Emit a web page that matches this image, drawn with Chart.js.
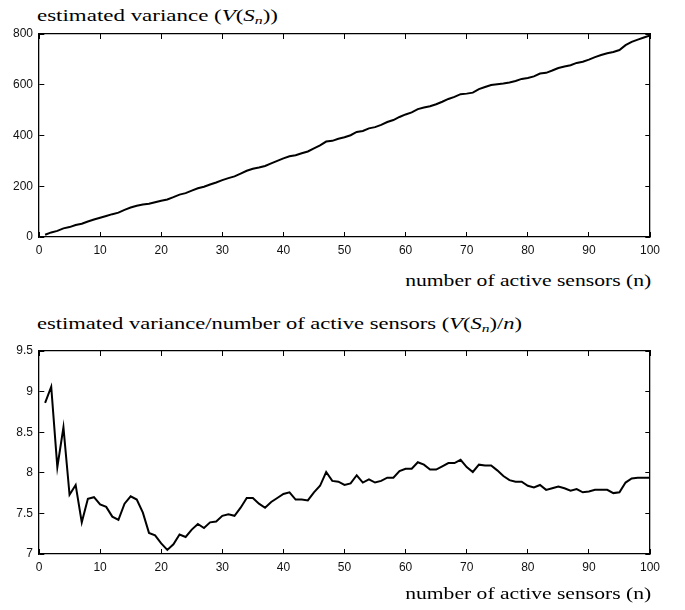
<!DOCTYPE html>
<html>
<head>
<meta charset="utf-8">
<script src="https://cdn.jsdelivr.net/npm/chart.js@4/dist/chart.umd.min.js"></script>
<style>
  body { margin: 0; background: #fff; width: 685px; height: 610px; position: relative; overflow: hidden; }
  canvas { position: absolute; left: 0; }
  .lbl {
    position: absolute;
    font-family: "Liberation Serif", "Times New Roman", Times, serif;
    font-size: 16px;
    line-height: 1;
    white-space: nowrap;
    color: #000;
  }
  .lbl.left { transform-origin: 0 0; }
  .lbl.right { transform-origin: 100% 0; }
  .lbl sub { font-size: 11px; vertical-align: -3px; line-height: 0; }
</style>
</head>
<body>
<div class="lbl left" id="topTitle" style="left:37px; top:8px;">estimated variance (<i>V</i>(<i>S</i><sub><i>n</i></sub>))</div>
<canvas id="varianceChart" width="685" height="270" style="top:0px"></canvas>
<div class="lbl right" id="topAxis" style="right:34px; top:273px;">number of active sensors (n)</div>

<div class="lbl left" id="bottomTitle" style="left:37px; top:316px;">estimated variance/number of active sensors (<i>V</i>(<i>S</i><sub><i>n</i></sub>)/<i>n</i>)</div>
<canvas id="ratioChart" width="685" height="270" style="top:317px"></canvas>
<div class="lbl right" id="bottomAxis" style="right:34px; top:586px;">number of active sensors (n)</div>

<script>
// number of active sensors
const sensorCounts = [
  1, 2, 3, 4, 5, 6, 7, 8, 9, 10,
  11, 12, 13, 14, 15, 16, 17, 18, 19, 20,
  21, 22, 23, 24, 25, 26, 27, 28, 29, 30,
  31, 32, 33, 34, 35, 36, 37, 38, 39, 40,
  41, 42, 43, 44, 45, 46, 47, 48, 49, 50,
  51, 52, 53, 54, 55, 56, 57, 58, 59, 60,
  61, 62, 63, 64, 65, 66, 67, 68, 69, 70,
  71, 72, 73, 74, 75, 76, 77, 78, 79, 80,
  81, 82, 83, 84, 85, 86, 87, 88, 89, 90,
  91, 92, 93, 94, 95, 96, 97, 98, 99, 100
];

// estimated variance V(S_n)
const variance = [
  9, 18, 24, 34, 39, 47, 52, 61, 69, 76,
  83, 90, 96, 107, 116, 123, 128, 131, 137, 143,
  148, 157, 167, 173, 183, 192, 198, 207, 215, 224,
  232, 239, 250, 261, 269, 274, 280, 290, 300, 310,
  318, 322, 330, 337, 349, 361, 376, 379, 387, 393,
  401, 414, 418, 428, 433, 442, 453, 461, 473, 483,
  491, 504, 510, 515, 523, 533, 544, 552, 563, 565,
  569, 583, 591, 599, 602, 605, 609, 615, 623, 627,
  633, 644, 647, 656, 666, 672, 677, 686, 691, 699,
  709, 717, 724, 729, 737, 756, 769, 778, 786, 794
];

// estimated variance / number of active sensors V(S_n)/n
const varianceRatio = [
  8.86, 9.06, 8.07, 8.56, 7.73, 7.85, 7.39, 7.68, 7.70, 7.61,
  7.58, 7.46, 7.42, 7.62, 7.71, 7.67, 7.51, 7.26, 7.23, 7.13,
  7.05, 7.12, 7.24, 7.21, 7.30, 7.37, 7.32, 7.39, 7.40, 7.47,
  7.49, 7.47, 7.57, 7.69, 7.69, 7.62, 7.57, 7.64, 7.69, 7.74,
  7.76, 7.67, 7.67, 7.66, 7.76, 7.84, 8.01, 7.90, 7.89, 7.85,
  7.87, 7.97, 7.88, 7.92, 7.88, 7.90, 7.94, 7.94, 8.02, 8.05,
  8.05, 8.13, 8.10, 8.04, 8.04, 8.08, 8.12, 8.12, 8.16, 8.07,
  8.01, 8.10, 8.09, 8.09, 8.03, 7.96, 7.91, 7.89, 7.89, 7.84,
  7.82, 7.85, 7.79, 7.81, 7.83, 7.81, 7.78, 7.80, 7.76, 7.77,
  7.79, 7.79, 7.79, 7.75, 7.76, 7.88, 7.93, 7.94, 7.94, 7.94
];

const xTickLabels = ['0', '10', '20', '30', '40', '50', '60', '70', '80', '90', '100'];
const varianceTickLabels = ['0', '200', '400', '600', '800'];
const ratioTickLabels = ['7', '7.5', '8', '8.5', '9', '9.5'];

const tickFont = { family: '"Liberation Sans", Arial, Helvetica, sans-serif', size: 12 };

// labelled axis: the grid lines are dashed so only a short mark shows at each edge,
// which gives the inward pointing ticks on both sides of the box
function labelAxis(position, min, max, step, labels, size, dash) {
  const horizontal = position === 'bottom';
  return {
    type: 'linear',
    position: position,
    min: min,
    max: max,
    border: { display: true, color: '#000', width: 1.3, dash: dash },
    grid: { display: true, drawOnChartArea: true, drawTicks: false, color: '#000', lineWidth: 1, borderDash: dash },
    ticks: {
      stepSize: step,
      padding: 6,
      color: '#111',
      font: tickFont,
      maxRotation: 0,
      autoSkip: false,
      callback: (v, i) => labels[i],
    },
    afterFit: (scale) => {
      if (horizontal) scale.height = size;
      else scale.width = size;
    },
  };
}

// unlabelled axis that only closes the box on the top / right
function frameAxis(position, min, max) {
  const horizontal = position === 'top';
  return {
    type: 'linear',
    position: position,
    min: min,
    max: max,
    border: { display: true, color: '#000', width: 1.3 },
    grid: { display: false, drawTicks: false },
    ticks: { display: false },
    afterFit: (scale) => {
      if (horizontal) scale.height = 0;
      else scale.width = 0;
    },
  };
}

function drawPanel(canvasId, values, yMin, yMax, yStep, yLabels) {
  const context = document.getElementById(canvasId).getContext('2d');
  return new Chart(context, {
    type: 'line',
    data: {
      datasets: [
        {
          data: sensorCounts.map((n, i) => ({ x: n, y: values[i] })),
          xAxisID: 'x',
          yAxisID: 'y',
          borderColor: '#000',
          borderWidth: 2,
          pointRadius: 0,
          tension: 0,
          fill: false,
        },
      ],
    },
    options: {
      responsive: false,
      animation: false,
      layout: { padding: { top: 34, right: 35, left: 0, bottom: 0 } },
      plugins: { legend: { display: false }, tooltip: { enabled: false } },
      scales: {
        x: labelAxis('bottom', 0, 100, 10, xTickLabels, 33, [5, 193, 5, 400]),
        xTop: frameAxis('top', 0, 100),
        y: labelAxis('left', yMin, yMax, yStep, yLabels, 39, [5, 601, 5, 900]),
        yRight: frameAxis('right', yMin, yMax),
      },
    },
  });
}

// stretch the serif labels to the width they take in the figure
function stretchLabel(id, width) {
  const el = document.getElementById(id);
  const w = el.getBoundingClientRect().width;
  el.style.transform = 'scaleX(' + (width / w) + ')';
}

document.addEventListener('DOMContentLoaded', function () {
  drawPanel('varianceChart', variance, 0, 800, 200, varianceTickLabels);
  drawPanel('ratioChart', varianceRatio, 7, 9.5, 0.5, ratioTickLabels);
  stretchLabel('topTitle', 241);
  stretchLabel('topAxis', 246);
  stretchLabel('bottomTitle', 485);
  stretchLabel('bottomAxis', 246);
});
</script>
</body>
</html>
